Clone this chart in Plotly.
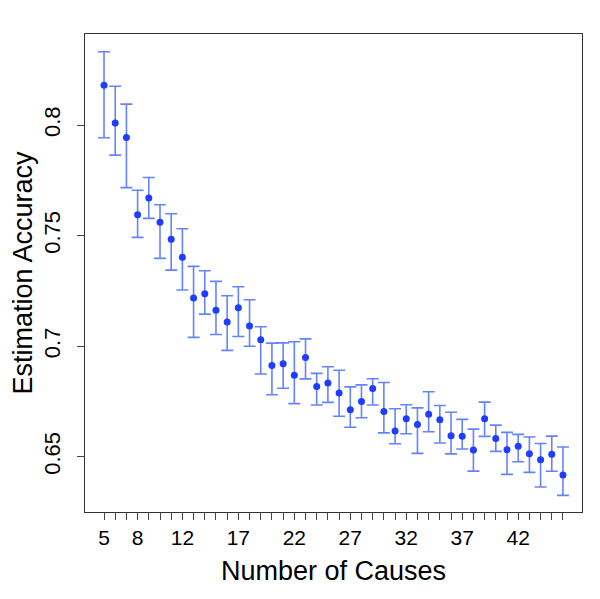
import plotly.graph_objects as go

causes = list(range(5, 47))
accuracy = [0.8180, 0.8009, 0.7944, 0.7594, 0.7670, 0.7560, 0.7484, 0.7402, 0.7218, 0.7237,
            0.7162, 0.7109, 0.7174, 0.7091, 0.7029, 0.6913, 0.6920, 0.6868, 0.6949, 0.6818,
            0.6834, 0.6788, 0.6712, 0.6750, 0.6809, 0.6705, 0.6616, 0.6672, 0.6646, 0.6692,
            0.6667, 0.6595, 0.6593, 0.6530, 0.6672, 0.6583, 0.6531, 0.6547, 0.6513, 0.6486,
            0.6511, 0.6417]
upper = [0.8332, 0.8176, 0.8095, 0.7705, 0.7763, 0.7640, 0.7599, 0.7531, 0.7361, 0.7341,
         0.7293, 0.7228, 0.7269, 0.7210, 0.7088, 0.7014, 0.7015, 0.7020, 0.7033, 0.6877,
         0.6907, 0.6891, 0.6816, 0.6825, 0.6853, 0.6836, 0.6717, 0.6735, 0.6721, 0.6794,
         0.6732, 0.6701, 0.6669, 0.6625, 0.6747, 0.6643, 0.6610, 0.6601, 0.6589, 0.6560,
         0.6593, 0.6544]
lower = [0.7943, 0.7864, 0.7717, 0.7492, 0.7578, 0.7397, 0.7344, 0.7254, 0.7040, 0.7145,
         0.7053, 0.6981, 0.7044, 0.7000, 0.6874, 0.6780, 0.6810, 0.6740, 0.6852, 0.6734,
         0.6746, 0.6683, 0.6633, 0.6676, 0.6734, 0.6608, 0.6559, 0.6604, 0.6515, 0.6613,
         0.6562, 0.6513, 0.6535, 0.6435, 0.6592, 0.6524, 0.6420, 0.6477, 0.6429, 0.6363,
         0.6434, 0.6325]
x_labels = {5: "5", 8: "8", 12: "12", 17: "17", 22: "22", 27: "27", 32: "32", 37: "37", 42: "42"}
y_ticks = [0.65, 0.7, 0.75, 0.8]
y_ticktext = ["0.65", "0.7", "0.75", "0.8"]

err_plus = [u - a for u, a in zip(upper, accuracy)]
err_minus = [a - l for a, l in zip(accuracy, lower)]

fig = go.Figure()
fig.add_trace(go.Scatter(
    x=causes, y=accuracy, mode="markers",
    marker=dict(color="#1f3dff", size=7),
    error_y=dict(type="data", symmetric=False, array=err_plus, arrayminus=err_minus,
                 color="rgba(50,90,255,0.75)", thickness=1.6, width=6),
    showlegend=False,
))

font = "Liberation Sans, Arial, sans-serif"
fig.update_layout(
    width=592, height=591,
    margin=dict(l=77, r=18, t=26, b=87),
    paper_bgcolor="white", plot_bgcolor="white",
    font=dict(family=font, color="black"),
    xaxis=dict(
        range=[3.3, 47.7], automargin=False,
        tickvals=causes,
        ticktext=[x_labels.get(c, "") for c in causes],
        ticks="outside", ticklen=7, tickcolor="#444", tickwidth=1,
        tickfont=dict(size=21),
        showline=True, linecolor="#333", linewidth=1, mirror=True,
        showgrid=False, zeroline=False,
        title=dict(text="Number of Causes", font=dict(size=27), standoff=12),
    ),
    yaxis=dict(
        range=[0.625, 0.8412], automargin=False,
        tickvals=y_ticks, ticktext=y_ticktext,
        tickangle=-90,
        ticks="outside", ticklen=7, tickcolor="#444", tickwidth=1,
        tickfont=dict(size=22),
        ticklabelstandoff=8,
        showline=True, linecolor="#333", linewidth=1, mirror=True,
        showgrid=False, zeroline=False,
        title=dict(text="Estimation Accuracy", font=dict(size=27), standoff=2),
    ),
)

fig.write_html("out.html")
